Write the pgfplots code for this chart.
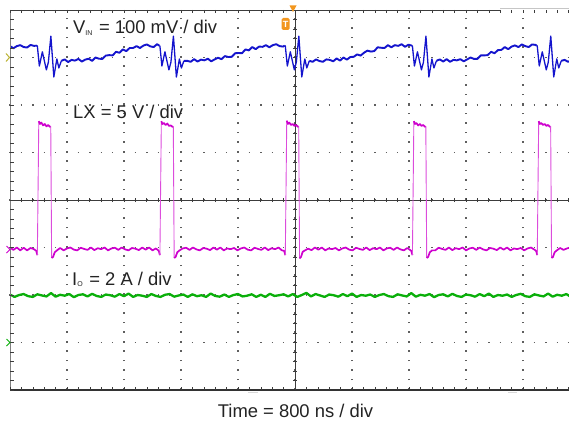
\documentclass[border=0pt]{standalone}
\usepackage{fontspec}
\setmainfont{Liberation Sans}
\usepackage{pgfplots}
\pgfplotsset{compat=1.18}
\definecolor{chblue}{RGB}{20,20,205}
\definecolor{chmag}{RGB}{205,0,205}
\definecolor{chgreen}{RGB}{10,175,10}
\definecolor{gridgray}{RGB}{95,95,95}
\definecolor{frame}{RGB}{60,60,60}
\definecolor{scopeorange}{RGB}{242,150,30}
\definecolor{txt}{RGB}{35,35,35}
\tikzset{
  bflat/.style={chblue, line width=1.9pt, line join=round},
  bfast/.style={chblue, line width=1.3pt, line join=round},
  mflat/.style={chmag, line width=1.7pt, line join=round},
  medge/.style={chmag!70!white, line width=0.9pt},
}

\begin{document}
\begin{tikzpicture}[x=1pt,y=1pt]
  \useasboundingbox (0,0) rectangle (569,424);
  % dotted graticule, 10 x 8 divisions of 57pt x 47.5pt
  \foreach \k in {1,...,9} {
    \draw[gridgray, line width=1.4pt, dash pattern=on 1.4pt off 8.1pt] ({10+57*\k},34.3) -- ({10+57*\k},414);
  }
  \foreach \k in {1,...,7} {
    \draw[gridgray, line width=1.4pt, dash pattern=on 1.4pt off 10pt] (9.3,{34+47.5*\k}) -- (569,{34+47.5*\k});
  }
  % centre cross
  \draw[frame, line width=1pt] (10,224) -- (569,224);
  \draw[frame, line width=1pt] (295,34) -- (295,414);
  \foreach \k in {0,...,49} {
    \draw[frame, line width=0.7pt] ({10+11.4*\k},221.8) -- ++(0,4.4);
  }
  \foreach \k in {0,...,40} {
    \draw[frame, line width=0.7pt] (292.8,{34+9.5*\k}) -- ++(4.4,0);
  }

  \begin{axis}[
      at={(10pt,34pt)}, anchor=south west,
      scale only axis, width=559pt, height=380pt,
      xmin=0, xmax=9.807, ymin=0, ymax=8,
      hide axis,
    ]
    % I_O, 2 A/div
    \addplot[chgreen, line width=2.3pt, line join=round] coordinates {
      (0.00,2.01) (0.08,1.96) (0.16,2.00) (0.24,2.02) (0.32,1.975) (0.40,1.96) (0.48,2.015) (0.56,1.99)
      (0.64,1.97) (0.72,2.04) (0.80,1.965) (0.88,2.005) (0.96,1.985) (1.04,2.02) (1.12,1.955) (1.20,2.00)
      (1.28,2.015) (1.36,1.97) (1.44,2.025) (1.52,1.98) (1.60,1.96) (1.68,2.01) (1.76,1.995) (1.84,1.965)
      (1.92,2.02) (2.00,1.975) (2.08,2.03) (2.16,1.96) (2.24,2.00) (2.32,1.985) (2.40,1.96) (2.48,2.02)
      (2.56,1.98) (2.64,1.96) (2.72,2.005) (2.80,2.02) (2.88,1.965) (2.96,1.99) (3.04,2.01) (3.12,1.96)
      (3.20,2.015) (3.28,1.975) (3.36,1.995) (3.44,1.96) (3.52,2.03) (3.60,1.98) (3.68,1.965) (3.76,2.01)
      (3.84,1.96) (3.92,2.00) (4.00,2.02) (4.08,1.97) (4.16,1.985) (4.24,2.015) (4.32,1.96) (4.40,2.005)
      (4.48,1.96) (4.56,2.025) (4.64,1.98) (4.72,1.995) (4.80,2.015) (4.88,1.97) (4.96,2.02) (5.04,1.96)
      (5.12,2.00) (5.20,2.045) (5.28,1.97) (5.36,2.02) (5.44,1.99) (5.52,1.96) (5.60,2.01) (5.68,1.995)
      (5.76,1.965) (5.84,2.02) (5.92,1.975) (6.00,2.03) (6.08,1.96) (6.16,2.00) (6.24,1.985) (6.32,2.01)
      (6.40,1.96) (6.48,2.00) (6.56,2.02) (6.64,1.975) (6.72,1.96) (6.80,2.015) (6.88,1.99) (6.96,1.97)
      (7.04,2.04) (7.12,1.965) (7.20,2.005) (7.28,1.985) (7.36,2.02) (7.44,1.955) (7.52,2.00) (7.60,2.015)
      (7.68,1.97) (7.76,2.025) (7.84,1.98) (7.92,1.96) (8.00,2.01) (8.08,1.995) (8.16,1.965) (8.24,2.02)
      (8.32,1.975) (8.40,2.03) (8.48,1.96) (8.56,2.00) (8.64,1.985) (8.72,2.01) (8.80,1.96) (8.88,2.00)
      (8.96,2.025) (9.04,1.975) (9.12,1.96) (9.20,2.015) (9.28,1.99) (9.36,1.97) (9.44,2.03) (9.52,1.965)
      (9.60,2.005) (9.68,1.985) (9.76,2.02) (9.84,1.96)
    };

    % LX, 5 V/div: flat parts thick, switching edges thin
    \addplot[mflat] coordinates {
      (0.00,3.00) (0.06,2.95) (0.12,3.00) (0.18,2.94) (0.24,2.995) (0.30,2.94) (0.36,2.99) (0.42,2.965)
      (0.46,2.93) (0.48,2.84)
    };
    \addplot[medge] coordinates {(0.48,2.84) (0.505,5.66)};
    \addplot[mflat] coordinates {
      (0.505,5.66) (0.525,5.60) (0.55,5.63) (0.58,5.57) (0.61,5.60) (0.64,5.55) (0.67,5.58) (0.70,5.54) (0.715,5.55)
    };
    \addplot[medge] coordinates {(0.715,5.55) (0.73,2.78)};
    \addplot[mflat] coordinates {
      (0.73,2.78) (0.755,2.80) (0.785,2.90) (0.825,2.94)
      (0.88,2.99) (0.94,2.94) (1.00,2.98) (1.06,3.00) (1.12,2.955) (1.18,2.94) (1.24,2.995) (1.30,2.97)
      (1.36,2.95) (1.42,3.00) (1.48,2.945) (1.54,2.985) (1.60,2.965) (1.66,3.00) (1.72,2.94) (1.78,2.98)
      (1.84,2.995) (1.90,2.95) (1.96,3.00) (2.02,2.96) (2.08,2.94) (2.14,2.99) (2.20,2.975) (2.26,2.945)
      (2.32,3.00) (2.38,2.955) (2.44,3.00) (2.50,2.94) (2.56,2.98) (2.61,2.93) (2.63,2.84)
    };
    \addplot[medge] coordinates {(2.63,2.84) (2.655,5.66)};
    \addplot[mflat] coordinates {
      (2.655,5.66) (2.675,5.60) (2.70,5.62) (2.73,5.58) (2.76,5.61) (2.79,5.56) (2.82,5.57) (2.85,5.54) (2.865,5.55)
    };
    \addplot[medge] coordinates {(2.865,5.55) (2.88,2.78)};
    \addplot[mflat] coordinates {
      (2.88,2.78) (2.905,2.80) (2.935,2.90) (2.975,2.94)
      (3.03,2.98) (3.09,2.995) (3.15,2.95) (3.21,3.00) (3.27,2.96) (3.33,2.94) (3.39,2.99) (3.45,2.975)
      (3.51,2.945) (3.57,3.00) (3.63,2.955) (3.69,3.00) (3.75,2.94) (3.81,2.98) (3.87,2.965) (3.93,2.99)
      (3.99,2.94) (4.05,2.98) (4.11,3.00) (4.17,2.955) (4.23,2.94) (4.29,2.995) (4.35,2.97) (4.41,2.95)
      (4.47,3.00) (4.53,2.945) (4.59,2.985) (4.65,2.965) (4.71,3.00) (4.77,2.94) (4.81,2.93) (4.83,2.84)
    };
    \addplot[medge] coordinates {(4.83,2.84) (4.855,5.67)};
    \addplot[mflat] coordinates {
      (4.855,5.67) (4.875,5.60) (4.90,5.63) (4.93,5.58) (4.96,5.60) (4.99,5.56) (5.02,5.58) (5.05,5.54) (5.065,5.55)
    };
    \addplot[medge] coordinates {(5.065,5.55) (5.08,2.77)};
    \addplot[mflat] coordinates {
      (5.08,2.77) (5.105,2.80) (5.135,2.91) (5.175,2.94)
      (5.23,2.975) (5.29,2.945) (5.35,3.00) (5.41,2.955) (5.47,3.00) (5.53,2.94) (5.59,2.98) (5.65,2.965)
      (5.71,2.99) (5.77,2.94) (5.83,2.98) (5.89,3.00) (5.95,2.955) (6.01,2.94) (6.07,2.995) (6.13,2.97)
      (6.19,2.95) (6.25,3.00) (6.31,2.945) (6.37,2.985) (6.43,2.965) (6.49,3.00) (6.55,2.94) (6.61,2.98)
      (6.67,2.995) (6.73,2.95) (6.79,3.00) (6.85,2.96) (6.91,2.94) (6.97,2.99) (7.04,2.93) (7.06,2.84)
    };
    \addplot[medge] coordinates {(7.06,2.84) (7.085,5.66)};
    \addplot[mflat] coordinates {
      (7.085,5.66) (7.105,5.60) (7.13,5.62) (7.16,5.57) (7.19,5.60) (7.22,5.56) (7.25,5.58) (7.28,5.54) (7.295,5.55)
    };
    \addplot[medge] coordinates {(7.295,5.55) (7.31,2.78)};
    \addplot[mflat] coordinates {
      (7.31,2.78) (7.335,2.80) (7.365,2.90) (7.405,2.94)
      (7.46,2.94) (7.52,2.995) (7.58,2.97) (7.64,2.95) (7.70,3.00) (7.76,2.945) (7.82,2.985) (7.88,2.965)
      (7.94,3.00) (8.00,2.94) (8.06,2.98) (8.12,2.995) (8.18,2.95) (8.24,3.00) (8.30,2.96) (8.36,2.94)
      (8.42,2.99) (8.48,2.975) (8.54,2.945) (8.60,3.00) (8.66,2.955) (8.72,3.00) (8.78,2.94) (8.84,2.98)
      (8.90,2.965) (8.96,2.99) (9.02,2.94) (9.08,2.98) (9.14,3.00) (9.20,2.955) (9.23,2.93) (9.25,2.84)
    };
    \addplot[medge] coordinates {(9.25,2.84) (9.275,5.66)};
    \addplot[mflat] coordinates {
      (9.275,5.66) (9.295,5.60) (9.32,5.62) (9.35,5.58) (9.38,5.60) (9.41,5.56) (9.44,5.58) (9.47,5.54) (9.485,5.55)
    };
    \addplot[medge] coordinates {(9.485,5.55) (9.50,2.78)};
    \addplot[mflat] coordinates {
      (9.50,2.78) (9.525,2.80) (9.555,2.90) (9.595,2.94) (9.65,2.99) (9.71,2.95) (9.77,2.98) (9.83,3.00)
    };

    % V_IN, 100 mV/div: noisy ramps thick, ringing after each edge thinner
    \addplot[bflat] coordinates {
      (0.00,7.24) (0.06,7.195) (0.12,7.24) (0.18,7.26) (0.24,7.22) (0.30,7.21) (0.36,7.265) (0.42,7.245) (0.47,7.25)
    };
    \addplot[bfast] coordinates {
      (0.47,7.25) (0.48,7.24) (0.515,6.82) (0.568,7.12) (0.638,6.74) (0.673,6.90) (0.717,7.45) (0.769,6.59) (0.822,6.97) (0.857,6.78) (0.901,6.93)
    };
    \addplot[bflat] coordinates {
      (0.901,6.93) (0.96,6.96) (1.02,6.905) (1.08,6.95) (1.14,6.935) (1.20,6.97) (1.26,6.915) (1.32,6.955) (1.38,6.975)
      (1.44,6.93) (1.50,7.00) (1.56,6.975) (1.62,6.97) (1.68,7.04) (1.74,7.05) (1.80,7.045) (1.86,7.12)
      (1.92,7.10) (1.98,7.17) (2.04,7.135) (2.10,7.20) (2.16,7.20) (2.22,7.24) (2.28,7.20) (2.34,7.25)
      (2.40,7.275) (2.46,7.235) (2.52,7.22) (2.58,7.28) (2.62,7.25)
    };
    \addplot[bfast] coordinates {
      (2.62,7.25) (2.63,7.24) (2.665,6.82) (2.718,7.12) (2.788,6.74) (2.823,6.90) (2.867,7.45) (2.919,6.59) (2.972,6.97) (3.007,6.78) (3.051,6.93)
    };
    \addplot[bflat] coordinates {
      (3.051,6.93) (3.11,6.93) (3.17,6.91) (3.23,6.965) (3.29,6.915) (3.35,6.955) (3.41,6.94) (3.47,6.975) (3.53,6.92)
      (3.59,6.96) (3.65,6.995) (3.71,6.965) (3.77,7.03) (3.83,7.01) (3.89,7.015) (3.95,7.09) (4.01,7.095)
      (4.07,7.09) (4.13,7.17) (4.19,7.15) (4.25,7.22) (4.31,7.175) (4.37,7.23) (4.43,7.225) (4.49,7.26)
      (4.55,7.215) (4.61,7.26) (4.67,7.28) (4.73,7.24) (4.79,7.23) (4.82,7.25)
    };
    \addplot[bfast] coordinates {
      (4.82,7.25) (4.83,7.24) (4.865,6.82) (4.918,7.12) (4.988,6.74) (5.023,6.90) (5.067,7.45) (5.119,6.59) (5.172,6.97) (5.207,6.78) (5.251,6.93)
    };
    \addplot[bflat] coordinates {
      (5.251,6.93) (5.31,6.91) (5.37,6.96) (5.43,6.925) (5.49,6.91) (5.55,6.96) (5.61,6.95) (5.67,6.92) (5.73,6.98)
      (5.79,6.935) (5.85,7.00) (5.91,6.955) (5.97,7.01) (6.03,7.015) (6.09,7.065) (6.15,7.04) (6.21,7.10)
      (6.27,7.145) (6.33,7.125) (6.39,7.135) (6.45,7.215) (6.51,7.205) (6.57,7.20) (6.63,7.26) (6.69,7.215)
      (6.75,7.26) (6.81,7.245) (6.87,7.28) (6.93,7.225) (6.99,7.27) (7.05,7.25)
    };
    \addplot[bfast] coordinates {
      (7.05,7.25) (7.06,7.24) (7.095,6.82) (7.148,7.12) (7.218,6.74) (7.253,6.90) (7.297,7.45) (7.349,6.59) (7.402,6.97) (7.437,6.78) (7.481,6.93)
    };
    \addplot[bflat] coordinates {
      (7.481,6.93) (7.54,6.96) (7.60,6.915) (7.66,6.965) (7.72,6.91) (7.78,6.95) (7.84,6.94) (7.90,6.965) (7.96,6.92)
      (8.02,6.96) (8.08,7.00) (8.14,6.97) (8.20,6.97) (8.26,7.045) (8.32,7.045) (8.38,7.05) (8.44,7.12)
      (8.50,7.09) (8.56,7.155) (8.62,7.16) (8.68,7.22) (8.74,7.175) (8.80,7.23) (8.86,7.255) (8.92,7.22)
      (8.98,7.275) (9.04,7.24) (9.10,7.22) (9.16,7.275) (9.22,7.265) (9.24,7.25)
    };
    \addplot[bfast] coordinates {
      (9.24,7.25) (9.25,7.24) (9.285,6.82) (9.338,7.12) (9.408,6.74) (9.443,6.90) (9.487,7.45) (9.539,6.59) (9.592,6.97) (9.627,6.78) (9.671,6.93)
    };
    \addplot[bflat] coordinates {
      (9.671,6.93) (9.73,6.95) (9.79,6.91) (9.85,6.94)
    };
  \end{axis}

  % screen frame: left, top and bottom edges with their small ticks
  \draw[gray, line width=0.8pt] (10,34) -- (10,414);
  \draw[frame, line width=0.9pt] (10,414) -- (500,414);
  \draw[gray!45, line width=0.9pt] (500,415.5) -- (569,415.5);
  \draw[black!80, line width=1.8pt] (10,34) -- (569,34);
  \fill[gray!30] (248,31) rectangle (258,32.5);
  \fill[gray!30] (508,31) rectangle (517,32.5);
  \foreach \k in {0,...,40} {
    \draw[frame, line width=0.6pt] (10,{34+9.5*\k}) -- ++(3.5,0);
  }
  \foreach \k in {0,...,49} {
    \draw[frame, line width=0.6pt] ({10+11.4*\k},414) -- ++(0,-3.5);
    \draw[frame, line width=0.6pt] ({10+11.4*\k},34) -- ++(0,3.5);
  }

  % channel level markers
  \draw[yellow!70!black, line width=1pt] (6,370.5) -- (9.5,366.5) -- (6,362.5);
  \draw[chmag, line width=1pt] (6.5,178) -- (10,174.5) -- (6.5,171);
  \draw[chgreen, line width=1pt] (6.5,85) -- (10,81.5) -- (6.5,78);

  % trigger marker
  \fill[scopeorange] (289.5,418.5) -- (296.5,418.5) -- (293,412) -- cycle;
  \node[fill=scopeorange, rounded corners=1.5pt, text=white, inner sep=0pt,
        minimum width=8pt, minimum height=12pt,
        font=\bfseries\fontsize{9}{9}\selectfont] at (285.5,400) {T};

  % labels
  \node[anchor=base west, inner sep=0pt, text=txt, font=\fontsize{18.4}{20}\selectfont]
    at (73,390) {V\raisebox{-1.5pt}{\fontsize{7}{7}\selectfont IN}\hspace{1.5pt} = 100 mV / div};
  \node[anchor=base west, inner sep=0pt, text=txt, font=\fontsize{18.4}{20}\selectfont]
    at (73,306) {LX = 5 V / div};
  \node[anchor=base west, inner sep=0pt, text=txt, font=\fontsize{18.4}{20}\selectfont]
    at (72,139) {I\raisebox{-1.5pt}{\fontsize{7}{7}\selectfont O}\hspace{1.5pt} = 2 A / div};
  \node[anchor=base, inner sep=0pt, text=txt, font=\fontsize{18.4}{20}\selectfont]
    at (295.5,7) {Time = 800 ns / div};
\end{tikzpicture}
\end{document}
